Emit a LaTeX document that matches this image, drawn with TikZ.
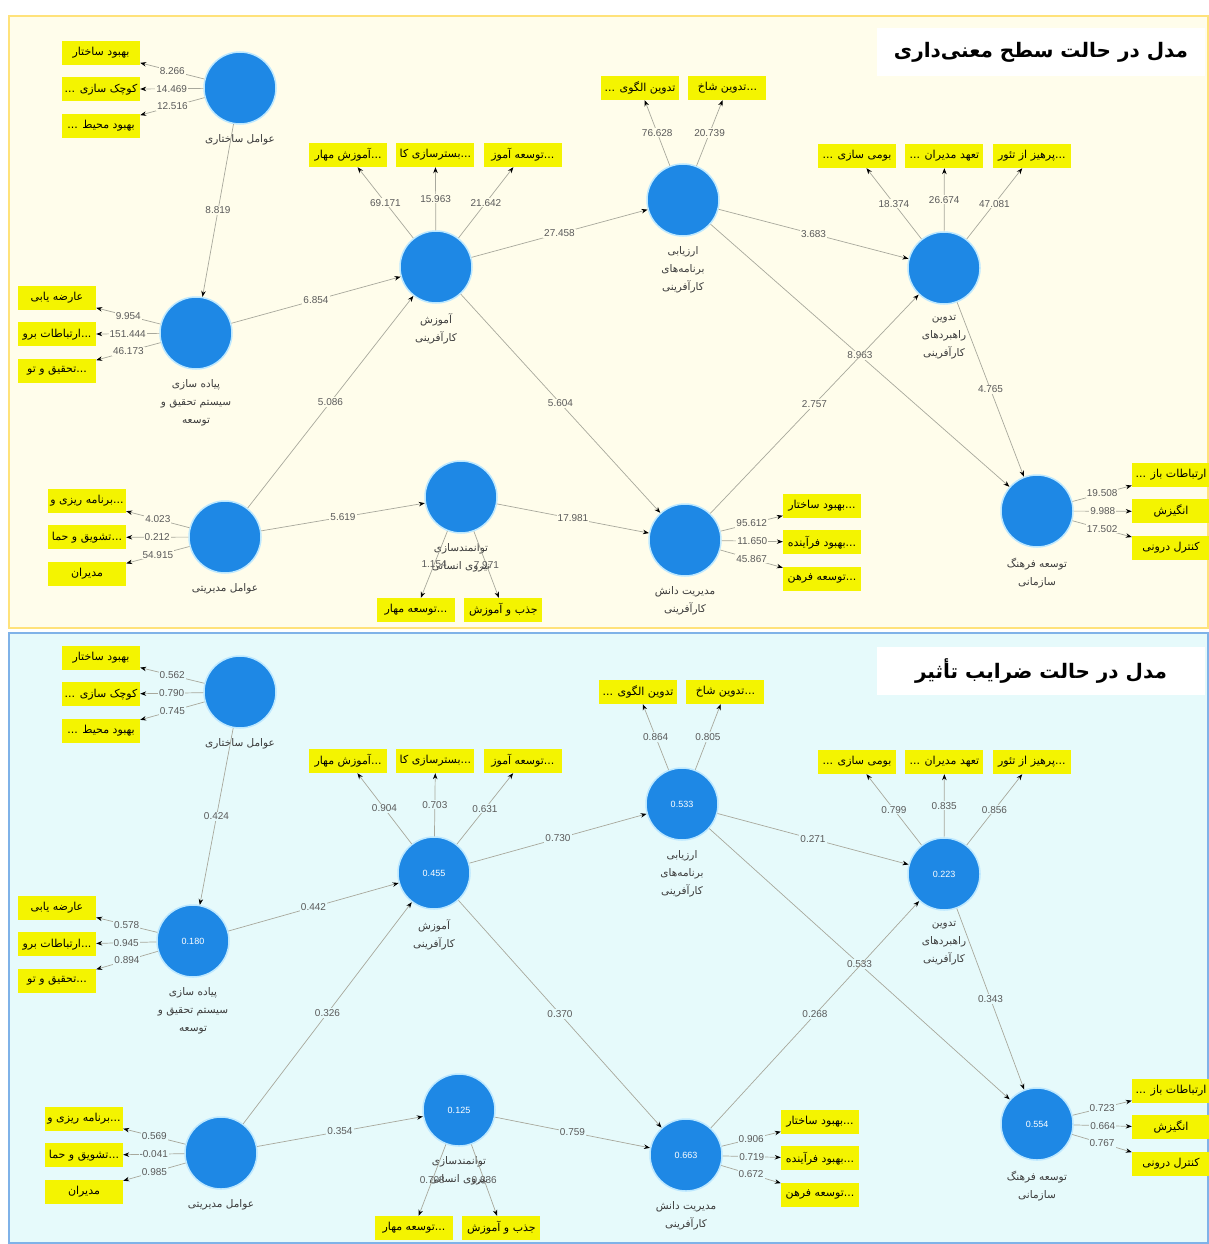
\documentclass[tikz,border=0pt]{standalone}
\usepackage{fontspec}
\usepackage{xcolor}
\usepackage{tikz}
\usetikzlibrary{positioning,arrows.meta}
\TeXXeTstate=1
\newfontfamily\fa[Script=Arabic]{DejaVu Sans}
\newfontfamily\numfont{Liberation Sans}
\newcommand{\fatext}[1]{{\fa\beginR #1\endR}}
\definecolor{topbg}{HTML}{FFFDEB}
\definecolor{topframe}{HTML}{FFE27A}
\definecolor{botbg}{HTML}{E6FAFB}
\definecolor{botframe}{HTML}{7FB2E8}
\definecolor{lvblue}{HTML}{1E88E5}
\definecolor{lvhalo}{HTML}{BDE8FF}
\definecolor{indyellow}{HTML}{F4F400}
\definecolor{linkgray}{HTML}{A8A89C}
\definecolor{numgray}{HTML}{5A5A5A}
\definecolor{lblgray}{HTML}{3C3C3C}

\begin{document}
\begin{tikzpicture}[x=1pt,y=-1pt,
  latent/.style={circle,minimum size=72pt,inner sep=0pt,fill=lvblue,draw=lvhalo,line width=1.5pt,text=white,font=\numfont\fontsize{9}{10}\selectfont},
  indicator/.style={fill=indyellow,minimum width=78pt,minimum height=24pt,inner sep=1pt,font=\fa\fontsize{11}{12}\selectfont},
  latentlabel/.style={align=center,inner sep=1pt,text=lblgray,font=\fa\fontsize{10.5}{18}\selectfont},
  coef/.style={font=\numfont\fontsize{10}{10}\selectfont,text=numgray,inner sep=1pt},
  link/.style={draw=linkgray,line width=0.7pt,-{Stealth[length=6pt,width=4.5pt,black]}},
  title/.style={fill=white,minimum width=328pt,minimum height=48pt,font=\fa\bfseries\fontsize{20}{22}\selectfont}]
\useasboundingbox (0,0) rectangle (1209,1244);
\fill[white] (0,0) rectangle (1209,1244);

% ---- top panel: t-values ----
\begin{scope}[coef/.append style={fill=topbg}]
  \draw[draw=topframe,fill=topbg,line width=1.5pt] (9,16) rectangle (1208,628);
  \node[title] (ttitle) at (1041,52) {\fatext{مدل در حالت سطح معنی‌داری}};
  % latent variables
  \node[latent] (tstruct) at (240,88) {};
  \node[latent] (trd) at (196,333) {};
  \node[latent] (tedu) at (436,267) {};
  \node[latent] (teval) at (683,200) {};
  \node[latent] (tstrat) at (944,268) {};
  \node[latent] (tmgmt) at (225,537) {};
  \node[latent] (temp) at (461,497) {};
  \node[latent] (tknow) at (685,540) {};
  \node[latent] (tcult) at (1037,511) {};
  \node[latentlabel] (tstructl) [below=9pt of tstruct] {\fatext{عوامل ساختاری}};
  \node[latentlabel] (trdl) [below=9pt of trd] {\fatext{پیاده سازی}\\\fatext{سیستم تحقیق و}\\\fatext{توسعه}};
  \node[latentlabel] (tedul) [below=9pt of tedu] {\fatext{آموزش}\\\fatext{کارآفرینی}};
  \node[latentlabel] (tevall) [below=9pt of teval] {\fatext{ارزیابی}\\\fatext{برنامه‌های}\\\fatext{کارآفرینی}};
  \node[latentlabel] (tstratl) [below=9pt of tstrat] {\fatext{تدوین}\\\fatext{راهبردهای}\\\fatext{کارآفرینی}};
  \node[latentlabel] (tmgmtl) [below=9pt of tmgmt] {\fatext{عوامل مدیریتی}};
  \node[latentlabel] (templ) [below=9pt of temp] {\fatext{توانمندسازی}\\\fatext{نیروی انسانی}};
  \node[latentlabel] (tknowl) [below=9pt of tknow] {\fatext{مدیریت دانش}\\\fatext{کارآفرینی}};
  \node[latentlabel] (tcultl) [below=9pt of tcult] {\fatext{توسعه فرهنگ}\\\fatext{سازمانی}};
  % indicators
  \node[indicator] (tst1) at (101,53) {\fatext{بهبود ساختار}};
  \node[indicator] (tst2) [below=12pt of tst1] {... \fatext{کوچک سازی}};
  \node[indicator] (tst3) [below=12pt of tst2] {... \fatext{بهبود محیط}};
  \node[indicator] (trd1) at (57,298) {\fatext{عارضه یابی}};
  \node[indicator] (trd2) [below=12pt of trd1] {\fatext{ارتباطات برو}...};
  \node[indicator] (trd3) [below=12pt of trd2] {\fatext{تحقیق و تو}...};
  \node[indicator] (ted1) at (348,155) {\fatext{آموزش مهار}...};
  \node[indicator] (ted2) [right=9pt of ted1] {\fatext{بسترسازی کا}...};
  \node[indicator] (ted3) [right=9pt of ted2] {\fatext{توسعه آموز}...};
  \node[indicator] (tev1) at (640,88) {... \fatext{تدوین الگوی}};
  \node[indicator] (tev2) [right=9pt of tev1] {\fatext{تدوین شاخ}...};
  \node[indicator] (tsr1) at (857,156) {... \fatext{بومی سازی}};
  \node[indicator] (tsr2) [right=9pt of tsr1] {... \fatext{تعهد مدیران}};
  \node[indicator] (tsr3) [right=9pt of tsr2] {\fatext{پرهیز از تئور}...};
  \node[indicator] (tmg1) at (87,501) {\fatext{برنامه ریزی و}...};
  \node[indicator] (tmg2) [below=12pt of tmg1] {\fatext{تشویق و حما}...};
  \node[indicator] (tmg3) [below=12pt of tmg2] {\fatext{مدیران}};
  \node[indicator] (tem1) at (416,610) {\fatext{توسعه مهار}...};
  \node[indicator] (tem2) [right=9pt of tem1] {\fatext{جذب و آموزش}};
  \node[indicator] (tkn1) at (822,506) {\fatext{بهبود ساختار}...};
  \node[indicator] (tkn2) [below=12pt of tkn1] {\fatext{بهبود فرآینده}...};
  \node[indicator] (tkn3) [below=12pt of tkn2] {\fatext{توسعه فرهن}...};
  \node[indicator] (tcu1) at (1171,475) {... \fatext{ارتباطات باز}};
  \node[indicator] (tcu2) [below=12pt of tcu1] {\fatext{انگیزش}};
  \node[indicator] (tcu3) [below=12pt of tcu2] {\fatext{کنترل درونی}};
  % outer loadings
  \draw[link] (tstruct) -- (tst1) node[coef,midway] {8.266};
  \draw[link] (tstruct) -- (tst2) node[coef,midway] {14.469};
  \draw[link] (tstruct) -- (tst3) node[coef,midway] {12.516};
  \draw[link] (trd) -- (trd1) node[coef,midway] {9.954};
  \draw[link] (trd) -- (trd2) node[coef,midway] {151.444};
  \draw[link] (trd) -- (trd3) node[coef,midway] {46.173};
  \draw[link] (tedu) -- (ted1) node[coef,midway] {69.171};
  \draw[link] (tedu) -- (ted2) node[coef,midway] {15.963};
  \draw[link] (tedu) -- (ted3) node[coef,midway] {21.642};
  \draw[link] (teval) -- (tev1) node[coef,midway] {76.628};
  \draw[link] (teval) -- (tev2) node[coef,midway] {20.739};
  \draw[link] (tstrat) -- (tsr1) node[coef,midway] {18.374};
  \draw[link] (tstrat) -- (tsr2) node[coef,midway] {26.674};
  \draw[link] (tstrat) -- (tsr3) node[coef,midway] {47.081};
  \draw[link] (tmgmt) -- (tmg1) node[coef,midway] {4.023};
  \draw[link] (tmgmt) -- (tmg2) node[coef,midway] {0.212};
  \draw[link] (tmgmt) -- (tmg3) node[coef,midway] {54.915};
  \draw[link] (temp) -- (tem1) node[coef,midway,fill=none] {1.154};
  \draw[link] (temp) -- (tem2) node[coef,midway,fill=none] {7.971};
  \draw[link] (tknow) -- (tkn1) node[coef,midway] {95.612};
  \draw[link] (tknow) -- (tkn2) node[coef,midway] {11.650};
  \draw[link] (tknow) -- (tkn3) node[coef,midway] {45.867};
  \draw[link] (tcult) -- (tcu1) node[coef,midway] {19.508};
  \draw[link] (tcult) -- (tcu2) node[coef,midway] {9.988};
  \draw[link] (tcult) -- (tcu3) node[coef,midway] {17.502};
  % inner paths
  \draw[link] (tstruct) -- (trd) node[coef,midway] {8.819};
  \draw[link] (trd) -- (tedu) node[coef,midway] {6.854};
  \draw[link] (tedu) -- (teval) node[coef,midway] {27.458};
  \draw[link] (teval) -- (tstrat) node[coef,midway] {3.683};
  \draw[link] (teval) -- (tcult) node[coef,midway] {8.963};
  \draw[link] (tstrat) -- (tcult) node[coef,midway] {4.765};
  \draw[link] (tmgmt) -- (tedu) node[coef,midway] {5.086};
  \draw[link] (tmgmt) -- (temp) node[coef,midway] {5.619};
  \draw[link] (tedu) -- (tknow) node[coef,midway] {5.604};
  \draw[link] (temp) -- (tknow) node[coef,midway] {17.981};
  \draw[link] (tknow) -- (tstrat) node[coef,midway] {2.757};
\end{scope}

% ---- bottom panel: path coefficients ----
\begin{scope}[coef/.append style={fill=botbg}]
  \draw[draw=botframe,fill=botbg,line width=1.5pt] (9,633) rectangle (1208,1243);
  \node[title] (btitle) at (1041,671) {\fatext{مدل در حالت ضرایب تأثیر}};
  % latent variables
  \node[latent] (bstruct) at (240,692) {};
  \node[latent] (brd) at (193,941) {0.180};
  \node[latent] (bedu) at (434,873) {0.455};
  \node[latent] (beval) at (682,804) {0.533};
  \node[latent] (bstrat) at (944,874) {0.223};
  \node[latent] (bmgmt) at (221,1153) {};
  \node[latent] (bemp) at (459,1110) {0.125};
  \node[latent] (bknow) at (686,1155) {0.663};
  \node[latent] (bcult) at (1037,1124) {0.554};
  \node[latentlabel] (bstructl) [below=9pt of bstruct] {\fatext{عوامل ساختاری}};
  \node[latentlabel] (brdl) [below=9pt of brd] {\fatext{پیاده سازی}\\\fatext{سیستم تحقیق و}\\\fatext{توسعه}};
  \node[latentlabel] (bedul) [below=9pt of bedu] {\fatext{آموزش}\\\fatext{کارآفرینی}};
  \node[latentlabel] (bevall) [below=9pt of beval] {\fatext{ارزیابی}\\\fatext{برنامه‌های}\\\fatext{کارآفرینی}};
  \node[latentlabel] (bstratl) [below=9pt of bstrat] {\fatext{تدوین}\\\fatext{راهبردهای}\\\fatext{کارآفرینی}};
  \node[latentlabel] (bmgmtl) [below=9pt of bmgmt] {\fatext{عوامل مدیریتی}};
  \node[latentlabel] (bempl) [below=9pt of bemp] {\fatext{توانمندسازی}\\\fatext{نیروی انسانی}};
  \node[latentlabel] (bknowl) [below=9pt of bknow] {\fatext{مدیریت دانش}\\\fatext{کارآفرینی}};
  \node[latentlabel] (bcultl) [below=9pt of bcult] {\fatext{توسعه فرهنگ}\\\fatext{سازمانی}};
  % indicators
  \node[indicator] (bst1) at (101,658) {\fatext{بهبود ساختار}};
  \node[indicator] (bst2) [below=12pt of bst1] {... \fatext{کوچک سازی}};
  \node[indicator] (bst3) [below=12pt of bst2] {... \fatext{بهبود محیط}};
  \node[indicator] (brd1) at (57,908) {\fatext{عارضه یابی}};
  \node[indicator] (brd2) [below=12pt of brd1] {\fatext{ارتباطات برو}...};
  \node[indicator] (brd3) [below=12pt of brd2] {\fatext{تحقیق و تو}...};
  \node[indicator] (bed1) at (348,761) {\fatext{آموزش مهار}...};
  \node[indicator] (bed2) [right=9pt of bed1] {\fatext{بسترسازی کا}...};
  \node[indicator] (bed3) [right=9pt of bed2] {\fatext{توسعه آموز}...};
  \node[indicator] (bev1) at (638,692) {... \fatext{تدوین الگوی}};
  \node[indicator] (bev2) [right=9pt of bev1] {\fatext{تدوین شاخ}...};
  \node[indicator] (bsr1) at (857,762) {... \fatext{بومی سازی}};
  \node[indicator] (bsr2) [right=9pt of bsr1] {... \fatext{تعهد مدیران}};
  \node[indicator] (bsr3) [right=9pt of bsr2] {\fatext{پرهیز از تئور}...};
  \node[indicator] (bmg1) at (84,1119) {\fatext{برنامه ریزی و}...};
  \node[indicator] (bmg2) [below=12pt of bmg1] {\fatext{تشویق و حما}...};
  \node[indicator] (bmg3) [below=12pt of bmg2] {\fatext{مدیران}};
  \node[indicator] (bem1) at (414,1228) {\fatext{توسعه مهار}...};
  \node[indicator] (bem2) [right=9pt of bem1] {\fatext{جذب و آموزش}};
  \node[indicator] (bkn1) at (820,1122) {\fatext{بهبود ساختار}...};
  \node[indicator] (bkn2) [below=12pt of bkn1] {\fatext{بهبود فرآینده}...};
  \node[indicator] (bkn3) [below=12pt of bkn2] {\fatext{توسعه فرهن}...};
  \node[indicator] (bcu1) at (1171,1091) {... \fatext{ارتباطات باز}};
  \node[indicator] (bcu2) [below=12pt of bcu1] {\fatext{انگیزش}};
  \node[indicator] (bcu3) [below=12pt of bcu2] {\fatext{کنترل درونی}};
  % outer loadings
  \draw[link] (bstruct) -- (bst1) node[coef,midway] {0.562};
  \draw[link] (bstruct) -- (bst2) node[coef,midway] {0.790};
  \draw[link] (bstruct) -- (bst3) node[coef,midway] {0.745};
  \draw[link] (brd) -- (brd1) node[coef,midway] {0.578};
  \draw[link] (brd) -- (brd2) node[coef,midway] {0.945};
  \draw[link] (brd) -- (brd3) node[coef,midway] {0.894};
  \draw[link] (bedu) -- (bed1) node[coef,midway] {0.904};
  \draw[link] (bedu) -- (bed2) node[coef,midway] {0.703};
  \draw[link] (bedu) -- (bed3) node[coef,midway] {0.631};
  \draw[link] (beval) -- (bev1) node[coef,midway] {0.864};
  \draw[link] (beval) -- (bev2) node[coef,midway] {0.805};
  \draw[link] (bstrat) -- (bsr1) node[coef,midway] {0.799};
  \draw[link] (bstrat) -- (bsr2) node[coef,midway] {0.835};
  \draw[link] (bstrat) -- (bsr3) node[coef,midway] {0.856};
  \draw[link] (bmgmt) -- (bmg1) node[coef,midway] {0.569};
  \draw[link] (bmgmt) -- (bmg2) node[coef,midway] {-0.041};
  \draw[link] (bmgmt) -- (bmg3) node[coef,midway] {0.985};
  \draw[link] (bemp) -- (bem1) node[coef,midway,fill=none] {0.708};
  \draw[link] (bemp) -- (bem2) node[coef,midway,fill=none] {0.836};
  \draw[link] (bknow) -- (bkn1) node[coef,midway] {0.906};
  \draw[link] (bknow) -- (bkn2) node[coef,midway] {0.719};
  \draw[link] (bknow) -- (bkn3) node[coef,midway] {0.672};
  \draw[link] (bcult) -- (bcu1) node[coef,midway] {0.723};
  \draw[link] (bcult) -- (bcu2) node[coef,midway] {0.664};
  \draw[link] (bcult) -- (bcu3) node[coef,midway] {0.767};
  % inner paths
  \draw[link] (bstruct) -- (brd) node[coef,midway] {0.424};
  \draw[link] (brd) -- (bedu) node[coef,midway] {0.442};
  \draw[link] (bedu) -- (beval) node[coef,midway] {0.730};
  \draw[link] (beval) -- (bstrat) node[coef,midway] {0.271};
  \draw[link] (beval) -- (bcult) node[coef,midway] {0.533};
  \draw[link] (bstrat) -- (bcult) node[coef,midway] {0.343};
  \draw[link] (bmgmt) -- (bedu) node[coef,midway] {0.326};
  \draw[link] (bmgmt) -- (bemp) node[coef,midway] {0.354};
  \draw[link] (bedu) -- (bknow) node[coef,midway] {0.370};
  \draw[link] (bemp) -- (bknow) node[coef,midway] {0.759};
  \draw[link] (bknow) -- (bstrat) node[coef,midway] {0.268};
\end{scope}
\end{tikzpicture}
\end{document}
